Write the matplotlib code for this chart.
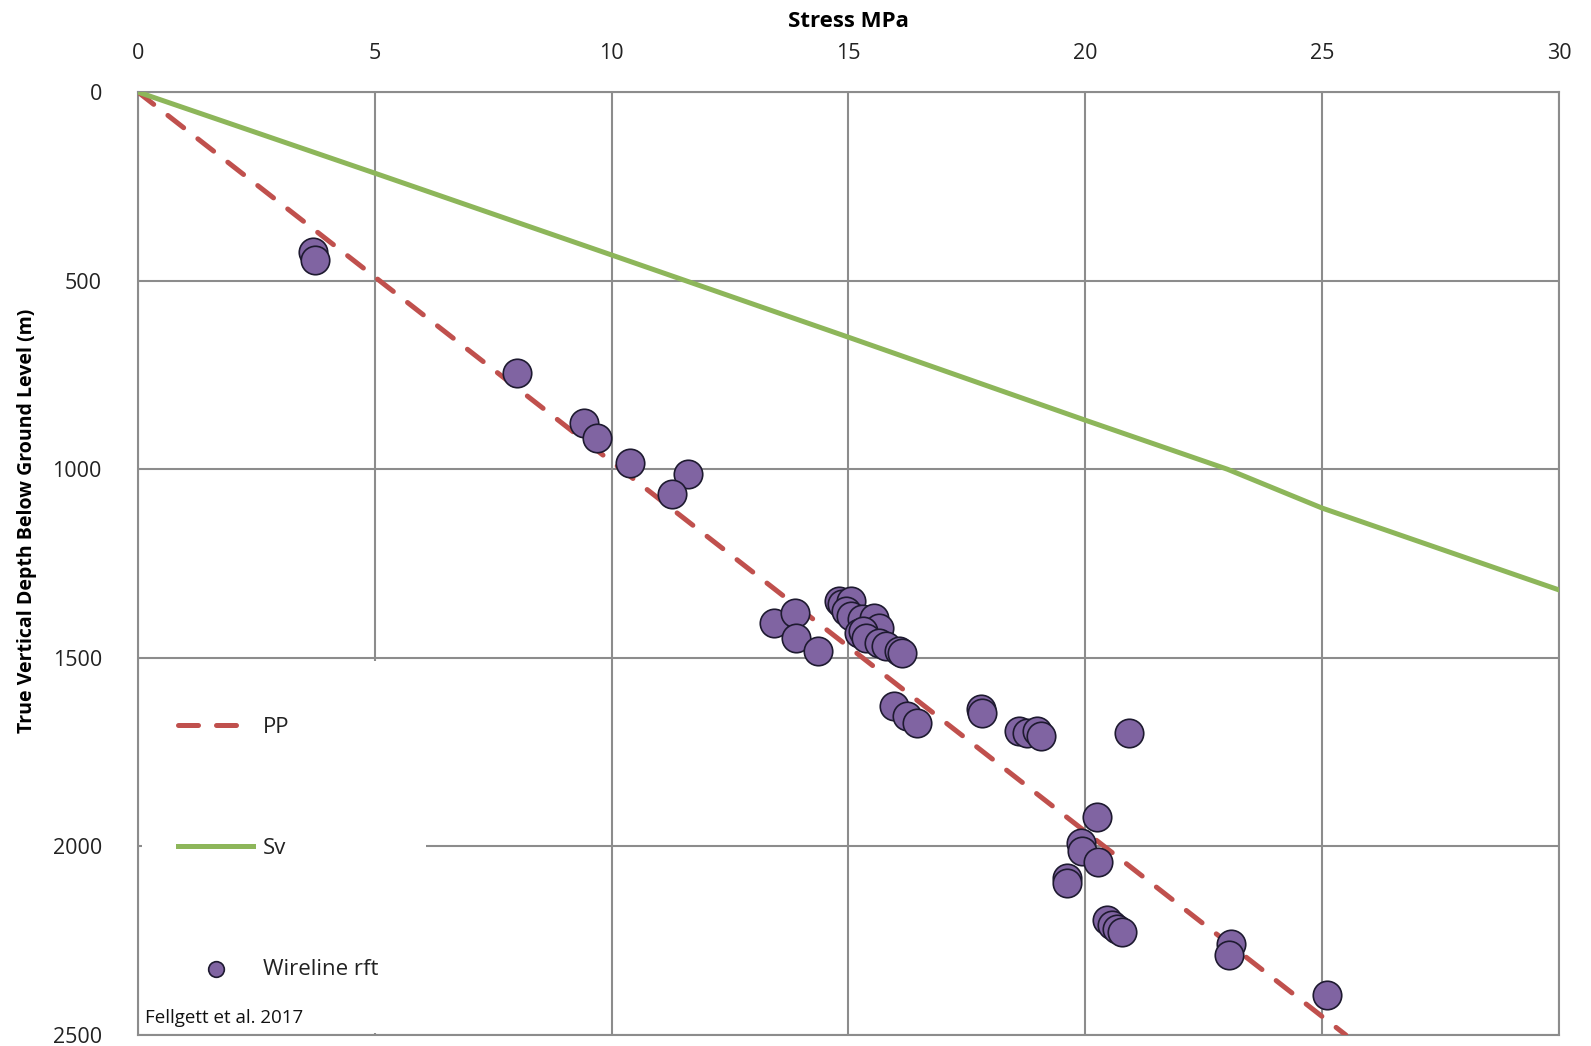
import matplotlib
matplotlib.use('Agg')
import matplotlib.pyplot as plt
from matplotlib.patches import Rectangle

plt.rcParams['font.family'] = ['Open Sans', 'DejaVu Sans']

# Pore pressure (hydrostatic) line
pp_stress = [0, 25.5]
pp_depth = [0, 2500]

# Vertical stress line
sv_stress = [0, 5, 10, 15, 20, 23, 25, 30]
sv_depth = [0, 215, 432, 650, 870, 1000, 1103, 1320]

# Wireline rft pressure points (MPa, m)
rft_stress = [3.70, 3.74, 8.00, 9.42, 9.69, 10.39, 11.61, 11.27,
              13.43, 13.87, 13.89, 14.35,
              14.80, 14.87, 15.05, 14.94, 15.05, 15.28, 15.54, 15.64, 15.22, 15.30,
              15.37, 15.64, 15.79, 16.06, 16.13,
              15.96, 16.23, 16.45, 17.80, 17.82,
              18.60, 18.77, 18.98, 19.06, 20.92,
              20.24, 19.91, 19.93, 20.27, 19.61, 19.61,
              20.46, 20.56, 20.67, 20.77, 23.07, 23.03, 25.10]
rft_depth = [425, 445, 744, 877, 917, 983, 1012, 1065,
             1408, 1382, 1448, 1483,
             1350, 1358, 1350, 1376, 1390, 1398, 1395, 1421, 1435, 1428,
             1448, 1461, 1469, 1483, 1488,
             1628, 1655, 1674, 1636, 1647,
             1695, 1700, 1695, 1708, 1700,
             1923, 1992, 2013, 2040, 2085, 2098,
             2196, 2207, 2220, 2226, 2260, 2287, 2393]

fig = plt.figure(figsize=(15.91, 10.46), dpi=100)
ax = fig.add_axes([0.0867, 0.0105, 0.8932, 0.9015])

grid_col = '#8C8C8C'
ax.set_xlim(0, 30)
ax.set_ylim(2500, 0)
ax.set_xticks(range(0, 31, 5))
ax.set_yticks(range(0, 2501, 500))
ax.xaxis.tick_top()
ax.xaxis.set_label_position('top')
ax.grid(True, color=grid_col, linewidth=1.5)
ax.set_axisbelow(True)
for s in ax.spines.values():
    s.set_color(grid_col)
    s.set_linewidth(1.5)
ax.tick_params(axis='x', length=0, pad=20, labelsize=15.5, labelcolor='#222222')
ax.tick_params(axis='y', length=0, pad=26, labelsize=15.5, labelcolor='#222222')

ax.set_xlabel('Stress MPa', fontsize=16, fontweight='bold', labelpad=12)
ax.set_ylabel('True Vertical Depth Below Ground Level (m)', fontsize=14, fontweight='bold')
ax.yaxis.set_label_coords(-0.071, 0.545)

# white box behind the legend (hides grid lines)
ax.add_patch(Rectangle((0.003, 0.002), 0.2, 0.395, transform=ax.transAxes,
                       facecolor='white', edgecolor='none', zorder=1))

ax.plot(pp_stress, pp_depth, color='#C0504D', linewidth=3.6,
        linestyle=(0, (4, 3.6)), dash_capstyle='round', label='PP', zorder=3)
ax.plot(sv_stress, sv_depth, color='#8DB65A', linewidth=3.6, label='Sv', zorder=3)
ax.scatter(rft_stress, rft_depth, s=420, color='#8064A2', edgecolors='#1E1A30',
           linewidths=1.2, label='Wireline rft', zorder=4)

leg = ax.legend(loc='upper left', bbox_to_anchor=(0.028, 0.337), frameon=False,
                fontsize=16, handlelength=3.4, handletextpad=0.45,
                labelspacing=4.5, borderpad=0, borderaxespad=0, markerscale=0.55)
for t in leg.get_texts():
    t.set_color('#222222')

ax.text(0.005, 0.018, 'Fellgett et al. 2017', transform=ax.transAxes,
        fontsize=13.5, va='center', ha='left', color='#111111', zorder=5)

fig.savefig('out.png', dpi=100)
